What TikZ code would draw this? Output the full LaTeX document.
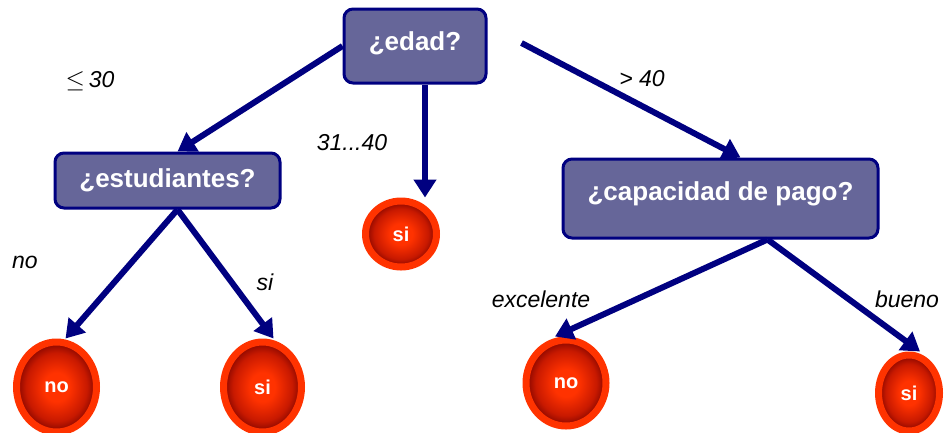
\documentclass[tikz,border=0pt]{standalone}
\usepackage{fontspec}
\setmainfont{Liberation Sans}
\usetikzlibrary{arrows.meta,shapes.geometric}
\definecolor{navy}{RGB}{0,0,128}
\definecolor{boxfill}{RGB}{102,102,153}
\definecolor{ring}{RGB}{255,51,0}
\definecolor{ballin}{RGB}{255,50,0}
\definecolor{ballmid}{RGB}{200,25,0}
\definecolor{ballout}{RGB}{130,5,0}
\pgfdeclareradialshading{ballshade}{\pgfpoint{0bp}{0bp}}{color(0bp)=(ballin); color(8bp)=(ballin); color(19bp)=(ballmid); color(25bp)=(ballout); color(50bp)=(ballout)}
\begin{document}
\begin{tikzpicture}[x=1pt,y=-1pt,
  qbox/.style={draw=navy, line width=3pt, fill=boxfill, rounded corners=9pt,
    text=white, font=\fontsize{26}{30}\selectfont\bfseries, inner sep=0pt},
  leaf/.style={ellipse, draw=ring, line width=7pt, shading=ballshade,
    text=white, font=\fontsize{20}{24}\selectfont\bfseries, inner sep=0pt},
  arr/.style={draw=navy, line width=6pt, -{Triangle[length=18pt,width=22pt]}},
  lbl/.style={font=\fontsize{23}{27}\selectfont\itshape, inner sep=0pt}]
\useasboundingbox (0,0) rectangle (944,432);

% question boxes
\node[qbox, minimum width=142pt, minimum height=74pt, text depth=9pt] (edad) at (415,46) {¿edad?};
\node[qbox, minimum width=225pt, minimum height=55pt] (est) at (167.5,180.5) {¿estudiantes?};
\node[qbox, minimum width=315pt, minimum height=79pt, text depth=14pt] (cap) at (720.5,198.5) {¿capacidad de pago?};

% leaves
\node[leaf, minimum width=80pt, minimum height=90pt] (no1) at (56.5,387) {no};
\node[leaf, minimum width=78pt, minimum height=90pt] (si1) at (262.5,387) {si};
\node[leaf, minimum width=71pt, minimum height=66pt] (sim) at (401,234) {si};
\node[leaf, minimum width=80pt, minimum height=86pt] (no2) at (566,383) {no};
\node[leaf, minimum width=61pt, minimum height=76pt] (si2) at (909,393) {si};

% connectors
\coordinate (m1) at ([xshift=10pt]edad.south);
\draw[arr] (edad.west) -- ([xshift=10pt]est.north);
\draw[arr] (m1) -- (m1 |- sim.north);
\draw[arr] ([shift={(34,-3)}]edad.east) -- ([xshift=20pt]cap.north);
\draw[arr] ([xshift=10pt]est.south) -- ([xshift=9pt]no1.north);
\draw[arr] ([xshift=10pt]est.south) -- ([xshift=11pt]si1.north);
\draw[arr] ([xshift=47pt]cap.south) -- ([xshift=-11pt]no2.north);
\draw[arr] ([xshift=47pt]cap.south) -- ([xshift=11pt]si2.north);

% labels
\node[lbl] (l1) at (90,81) {$\leq$\,30};
\node[lbl] (l2) at (352,143) {31...40};
\node[lbl] (l3) at (642,79) {> 40};
\node[lbl] (l4) at (25,262) {no};
\node[lbl] (l5) at (265,282) {si};
\node[lbl] (l6) at (541,299) {excelente};
\node[lbl] (l7) at (907,299) {bueno};
\end{tikzpicture}
\end{document}
